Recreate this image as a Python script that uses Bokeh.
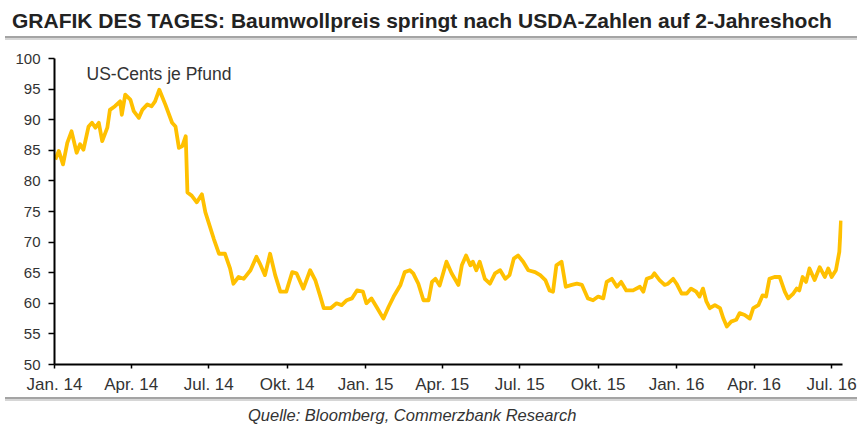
import pandas as pd
from bokeh.plotting import figure
from bokeh.layouts import column
from bokeh.models import Label, FixedTicker, Range1d, Div
from bokeh.embed import file_html
from bokeh.resources import INLINE

dates = [
    "2014-01-02", "2014-01-06", "2014-01-11", "2014-01-16", "2014-01-21", "2014-01-27", "2014-01-31",
    "2014-02-04", "2014-02-10", "2014-02-14", "2014-02-18", "2014-02-22", "2014-02-26", "2014-03-04",
    "2014-03-07", "2014-03-13", "2014-03-19", "2014-03-21", "2014-03-25", "2014-03-31", "2014-04-04",
    "2014-04-10", "2014-04-14", "2014-04-20", "2014-04-25", "2014-04-29", "2014-05-04", "2014-05-11",
    "2014-05-19", "2014-05-23", "2014-05-27", "2014-05-31", "2014-06-04", "2014-06-06", "2014-06-11",
    "2014-06-17", "2014-06-23", "2014-06-27", "2014-07-07", "2014-07-13", "2014-07-20", "2014-07-26",
    "2014-07-30", "2014-08-05", "2014-08-11", "2014-08-19", "2014-08-26", "2014-08-30", "2014-09-05",
    "2014-09-11", "2014-09-17", "2014-09-23", "2014-09-30", "2014-10-07", "2014-10-12", "2014-10-20",
    "2014-10-28", "2014-11-03", "2014-11-09", "2014-11-13", "2014-11-21", "2014-11-28", "2014-12-04",
    "2014-12-10", "2014-12-16", "2014-12-22", "2014-12-29", "2015-01-02", "2015-01-08", "2015-01-14",
    "2015-01-22", "2015-01-28", "2015-02-03", "2015-02-11", "2015-02-16", "2015-02-22", "2015-02-26",
    "2015-03-04", "2015-03-10", "2015-03-16", "2015-03-20", "2015-03-24", "2015-03-29", "2015-04-06",
    "2015-04-12", "2015-04-20", "2015-04-24", "2015-04-29", "2015-05-04", "2015-05-07", "2015-05-11",
    "2015-05-15", "2015-05-21", "2015-05-27", "2015-06-02", "2015-06-08", "2015-06-14", "2015-06-19",
    "2015-06-24", "2015-06-29", "2015-07-05", "2015-07-11", "2015-07-19", "2015-07-25", "2015-07-31",
    "2015-08-05", "2015-08-09", "2015-08-13", "2015-08-19", "2015-08-24", "2015-08-31", "2015-09-06",
    "2015-09-12", "2015-09-19", "2015-09-25", "2015-10-01", "2015-10-07", "2015-10-11", "2015-10-17",
    "2015-10-23", "2015-10-28", "2015-11-03", "2015-11-11", "2015-11-19", "2015-11-23", "2015-11-27",
    "2015-12-03", "2015-12-06", "2015-12-12", "2015-12-18", "2015-12-22", "2015-12-28", "2016-01-01",
    "2016-01-07", "2016-01-13", "2016-01-18", "2016-01-24", "2016-01-28", "2016-02-01", "2016-02-05",
    "2016-02-09", "2016-02-15", "2016-02-21", "2016-02-25", "2016-02-29", "2016-03-05", "2016-03-11",
    "2016-03-15", "2016-03-21", "2016-03-27", "2016-03-31", "2016-04-06", "2016-04-11", "2016-04-15",
    "2016-04-19", "2016-04-25", "2016-05-01", "2016-05-07", "2016-05-11", "2016-05-17", "2016-05-21",
    "2016-05-24", "2016-05-28", "2016-06-01", "2016-06-05", "2016-06-11", "2016-06-17", "2016-06-23",
    "2016-06-27", "2016-07-01", "2016-07-06", "2016-07-10", "2016-07-12",
]
prices = [
    83.5, 84.9, 82.7, 86.2, 88.1, 84.6, 86.0,
    85.1, 88.9, 89.5, 88.7, 89.5, 86.5, 88.7,
    91.6, 92.2, 93.0, 90.8, 94.1, 93.3, 91.4,
    90.3, 91.6, 92.5, 92.2, 93.0, 94.9, 92.5,
    89.5, 88.9, 85.4, 85.7, 87.3, 78.1, 77.6,
    76.5, 77.8, 74.9, 70.5, 68.1, 68.1, 65.7,
    63.2, 64.3, 64.0, 65.4, 67.6, 66.5, 64.6,
    68.1, 64.6, 61.9, 61.9, 65.1, 64.9, 62.4,
    65.4, 63.8, 61.1, 59.2, 59.2, 60.0, 59.7,
    60.5, 60.8, 62.1, 61.9, 60.0, 60.8, 59.4,
    57.5, 59.4, 61.1, 63.0, 65.1, 65.4, 64.9,
    63.2, 60.5, 60.5, 63.5, 64.0, 62.9, 66.8,
    64.9, 63.0, 66.2, 67.8, 66.2, 66.8, 65.4,
    66.8, 64.0, 63.2, 64.9, 65.4, 64.0, 64.6,
    67.3, 67.8, 66.8, 65.4, 65.1, 64.6, 63.8,
    62.1, 61.9, 66.2, 66.8, 62.7, 63.0, 63.2,
    63.0, 60.8, 60.5, 61.1, 60.8, 63.5, 64.0,
    62.7, 63.5, 62.1, 62.1, 62.7, 61.9, 64.0,
    64.3, 64.9, 63.8, 63.0, 63.2, 64.0, 63.2,
    61.6, 61.6, 62.4, 61.9, 61.1, 62.4, 60.3,
    59.2, 59.7, 59.2, 57.5, 56.2, 57.0, 57.3,
    58.4, 58.1, 57.5, 59.2, 59.7, 61.3, 61.1,
    64.0, 64.3, 64.3, 61.9, 60.8, 61.6, 62.4,
    62.1, 64.3, 63.5, 65.7, 63.8, 65.9, 64.3,
    65.7, 64.3, 65.4, 68.4, 73.5,
]

y_ticks = [50, 55, 60, 65, 70, 75, 80, 85, 90, 95, 100]
x_tick_dates = ["2014-01-01", "2014-04-01", "2014-07-01", "2014-10-01", "2015-01-01", "2015-04-01",
                "2015-07-01", "2015-10-01", "2016-01-01", "2016-04-01", "2016-07-01"]
x_tick_labels = ["Jan. 14", "Apr. 14", "Jul. 14", "Okt. 14", "Jan. 15", "Apr. 15",
                 "Jul. 15", "Okt. 15", "Jan. 16", "Apr. 16", "Jul. 16"]
x_start = "2014-01-01"
x_end = "2016-07-13 18:00"

title_text = "GRAFIK DES TAGES: Baumwollpreis springt nach USDA-Zahlen auf 2-Jahreshoch"
unit_text = "US-Cents je Pfund"
source_text = "Quelle: Bloomberg, Commerzbank Research"

FONT = "Liberation Sans"
W = 859

RULE = ('<div style="position:absolute;left:5px;width:{w}px;top:{t}px;height:2px;background:#a4a4a4;"></div>'
        '<div style="position:absolute;left:5px;width:{w}px;top:{t2}px;height:2px;background:#d6d6d6;"></div>')

# header: title + grey rule
head = Div(width=W, height=44, margin=0, text=(
    '<div style="position:relative;width:%dpx;height:44px;overflow:hidden;">'
    '<div style="position:absolute;left:12px;top:10px;white-space:nowrap;'
    'font-family:\'Liberation Sans\';font-weight:bold;font-size:21px;line-height:21px;color:#222222;">%s</div>'
    % (W, title_text)
    + RULE.format(w=W - 7, t=36, t2=38) + '</div>'))

# main chart
p = figure(width=W, height=352, x_axis_type="datetime",
           output_backend="svg", toolbar_location=None,
           x_range=Range1d(pd.Timestamp(x_start), pd.Timestamp(x_end)),
           y_range=Range1d(y_ticks[0], y_ticks[-1]),
           min_border_left=54, min_border_right=17, min_border_top=14, min_border_bottom=30)
p.outline_line_color = None
p.xgrid.visible = False
p.ygrid.visible = False

p.line(pd.to_datetime(dates), prices, line_color="#FFC000", line_width=3.8, line_join="round")

tick_ms = [int(pd.Timestamp(d).value // 10**6) for d in x_tick_dates]
p.xaxis.ticker = FixedTicker(ticks=tick_ms)
p.xaxis.major_label_overrides = {float(t): lab for t, lab in zip(tick_ms, x_tick_labels)}
p.yaxis.ticker = FixedTicker(ticks=y_ticks)

for ax in (p.xaxis, p.yaxis):
    ax.axis_line_color = "black"
    ax.axis_line_width = 2
    ax.major_tick_line_color = "black"
    ax.major_tick_line_width = 1.5
    ax.major_tick_in = 0
    ax.minor_tick_in = 0
    ax.minor_tick_out = 0
    ax.major_label_text_font = FONT
    ax.major_label_text_color = "#333333"

p.yaxis.major_tick_out = 6
p.yaxis.major_label_standoff = 8
p.yaxis.major_label_text_font_size = "15px"
p.xaxis.major_tick_out = 4
p.xaxis.major_label_standoff = 6
p.xaxis.major_label_text_font_size = "17px"

p.add_layout(Label(x=32, y=291, x_units="screen", y_units="screen", text=unit_text,
                   text_font=FONT, text_font_size="17.5px", text_color="#333333",
                   text_baseline="alphabetic"))

# footer: grey rule + source
foot = Div(width=W, height=29, margin=0, text=(
    '<div style="position:relative;width:%dpx;height:29px;overflow:hidden;">' % W
    + RULE.format(w=W - 7, t=1, t2=3)
    + '<div style="position:absolute;left:248px;top:11px;white-space:nowrap;'
    'font-family:\'Liberation Sans\';font-style:italic;font-size:16.5px;line-height:16.5px;color:#333333;">%s</div>'
    % source_text + '</div>'))

layout = column(head, p, foot, spacing=0)
open("out.html", "w").write(file_html(layout, INLINE))
